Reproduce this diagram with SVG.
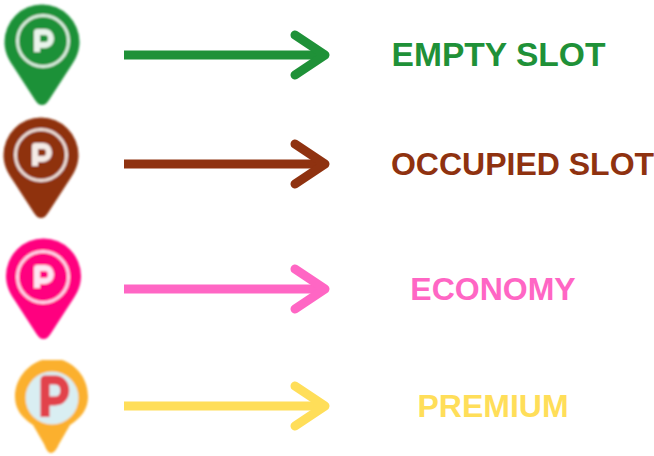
<svg xmlns="http://www.w3.org/2000/svg" width="654" height="456" viewBox="0 0 654 456">
<style>
text{font-family:"Liberation Sans",Arial,sans-serif;font-weight:700;font-size:32px;text-anchor:middle}
.c{fill:none;stroke-width:9;stroke-linejoin:round}
.h{stroke-linecap:round}
.r{fill:none;stroke:#fff;stroke-width:3;opacity:.85}
.p{fill:none;stroke:#fff;stroke-width:6;stroke-linejoin:round;opacity:.9}
</style>
<defs>
<filter id="b" x="-10%" y="-10%" width="120%" height="120%"><feGaussianBlur stdDeviation="1"/></filter>
<filter id="s" x="-10%" y="-10%" width="120%" height="120%"><feGaussianBlur stdDeviation="0.8"/></filter>
<path id="pin" d="M0 63C-3 63-5 61-7 58L-29 24C-34 17-37.500 9-37.500 0A37.500 37.500 0 0 1 37.500 0C37.500 9 34 17 29 24L7 58C5 61 3 63 0 63Z"/>
<g id="mark"><circle class="r" r="25.500"/><path class="p" d="M-6 11V-9H2C10-9 10 4 2 4H-6"/></g>
</defs>
<g id="connectors">
<g stroke="#1f9138" class="c"><path d="M124 55H322"/><path class="h" d="M295 35L325 55L295 75"/></g>
<g stroke="#8f3210" class="c"><path d="M124 164H322"/><path class="h" d="M295 144L325 164L295 184"/></g>
<g stroke="#ff66c4" class="c"><path d="M124 289H322"/><path class="h" d="M295 269L325 289L295 309"/></g>
<g stroke="#ffde59" class="c"><path d="M124 406H322"/><path class="h" d="M295 386L325 406L295 426"/></g>
</g>
<g id="empty-slot">
<g filter="url(#b)"><use href="#pin" transform="translate(42 42)" fill="#1f9138"/><use href="#mark" transform="translate(43 41)"/></g>
<text x="498.500" y="66" fill="#1f9138" style="font-size:33.600px">EMPTY SLOT</text>
</g>
<g id="occupied-slot">
<g filter="url(#b)"><use href="#pin" transform="translate(41 155)" fill="#8f3210"/><use href="#mark" transform="translate(41 155)"/></g>
<text x="522.500" y="175" fill="#8f3210">OCCUPIED SLOT</text>
</g>
<g id="economy">
<g filter="url(#b)"><use href="#pin" transform="translate(43.500 276)" fill="#ff007f"/><use href="#mark" transform="translate(43 277)"/></g>
<text x="493" y="300" fill="#ff66c4">ECONOMY</text>
</g>
<g id="premium">
<g filter="url(#s)">
<path fill="#fbb02d" d="M51 453C48 453 46 449 44 444L33 425C22 418 15 409 15 397C15 379 27 365 42 360H62C77 365 88 379 88 397C88 409 81 418 70 425L59 444C57 449 54 453 51 453Z"/>
<circle cx="52" cy="398" r="26.500" fill="#d9eef2"/>
<path d="M45 417V380H55C68 380 68 401 55 401H45" fill="none" stroke="#e2434b" stroke-width="9" stroke-linejoin="round"/>
</g>
<text x="493" y="417" fill="#ffde59">PREMIUM</text>
</g>
</svg>
